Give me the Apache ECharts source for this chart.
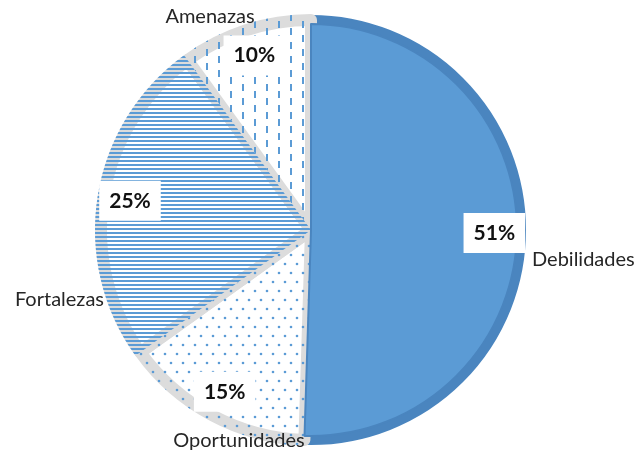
<!DOCTYPE html>
<html><head><meta charset="utf-8">
<script src="https://cdn.jsdelivr.net/npm/echarts@6/dist/echarts.min.js"></script>
<style>html,body{margin:0;padding:0;background:#fff}#c{width:636px;height:454px}</style>
</head><body><div id="c"></div>
<script>
// ---- data ----
const categories = ['Debilidades', 'Oportunidades', 'Fortalezas', 'Amenazas'];
const values = [50.5, 14.6, 24.9, 10.0];

// ---- layout / style ----
const CX = 311, CY = 230, R = 216;
const BLUE = '#5B9BD5';
const DARK = '#4A85BF';
const GRAY = '#DCDCDC';
const NONE = 'rgba(0,0,0,0)';
// anchor points for category name labels [x, y, align]
const NAME_LAYOUT = [[532, 260, 'left'], [239, 441, 'center'], [104, 300, 'right'], [210, 17, 'center']];

function tile(w, h, draw) {
  const c = document.createElement('canvas');
  c.width = w; c.height = h;
  const ctx = c.getContext('2d');
  ctx.fillStyle = BLUE; ctx.strokeStyle = BLUE;
  draw(ctx);
  return {image: c, repeat: 'repeat'};
}
const dots = tile(12, 18, ctx => {
  ctx.beginPath(); ctx.arc(3, 3, 1.3, 0, Math.PI * 2); ctx.fill();
  ctx.beginPath(); ctx.arc(9, 12, 1.3, 0, Math.PI * 2); ctx.fill();
});
const hlines = tile(8, 4, ctx => { ctx.fillRect(0, 0, 8, 2); });
const vdash = tile(24, 14, ctx => { ctx.fillRect(2, 0, 2, 7); ctx.fillRect(14, 7, 2, 7); });

const fills = [BLUE, '#fff', '#fff', '#fff'];
const borders = [DARK, GRAY, GRAY, GRAY];
const bw = [10, 12, 12, 12];
const overlays = [NONE, dots, hlines, vdash];
const topFill = [BLUE, NONE, NONE, NONE];

const chart = echarts.init(document.getElementById('c'), null, {renderer: 'canvas'});
const common = {
  type: 'pie', center: [CX, CY], startAngle: 90, clockwise: true,
  animation: false, silent: true, emphasis: {disabled: true}, avoidLabelOverlap: false
};
chart.setOption({
  backgroundColor: '#fff',
  series: [
    Object.assign({}, common, {
      radius: [0, R - 6],
      label: {show: false}, labelLine: {show: false},
      data: categories.map((n, i) => ({name: n, value: values[i],
        itemStyle: {color: fills[i], borderColor: borders[i], borderWidth: bw[i], borderJoin: 'round'}}))
    }),
    Object.assign({}, common, {
      radius: [0, R],
      label: {show: true, position: 'outside', formatter: '{b}', fontFamily: 'Lato', fontSize: 20, color: '#262626'},
      labelLine: {show: false},
      labelLayout: p => {
        const a = NAME_LAYOUT[p.dataIndex];
        return {x: a[0], y: a[1], align: a[2], verticalAlign: 'middle'};
      },
      data: categories.map((n, i) => ({name: n, value: values[i],
        itemStyle: {color: overlays[i], borderWidth: 0}}))
    }),
    Object.assign({}, common, {
      radius: [0, R - 10],
      label: {show: false}, labelLine: {show: false},
      data: categories.map((n, i) => ({name: n, value: values[i],
        itemStyle: {color: topFill[i], borderColor: i === 0 ? DARK : NONE, borderWidth: i === 0 ? 2 : 0}}))
    }),
    Object.assign({}, common, {
      radius: [R * 0.67, R],
      label: {show: true, position: 'inside', rotate: 0,
        formatter: p => Math.round(p.value) + '%',
        fontFamily: 'Lato', fontWeight: 'bold', fontSize: 21, color: '#111',
        backgroundColor: '#fff', padding: [10, 10, 9, 10]},
      labelLine: {show: false},
      data: categories.map((n, i) => ({name: n, value: values[i],
        itemStyle: {color: NONE, borderWidth: 0}}))
    })
  ]
});
</script></body></html>
